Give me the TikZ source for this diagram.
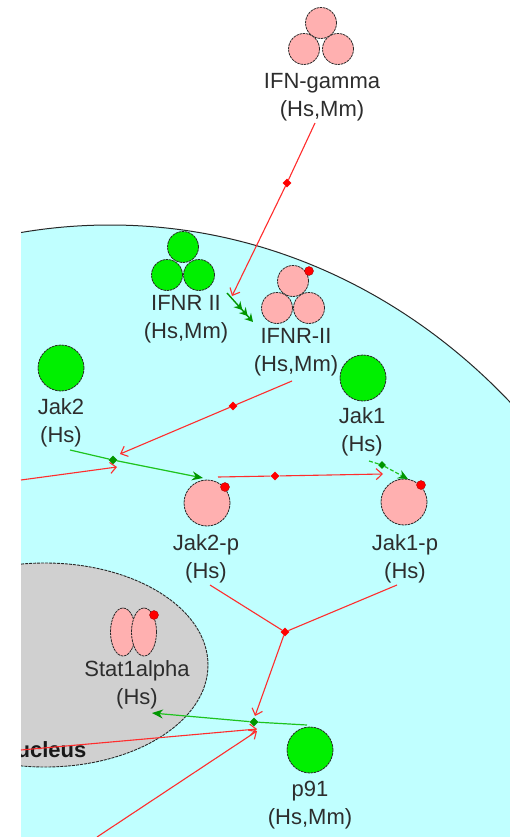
\documentclass[tikz,border=0pt]{standalone}
\usepackage{fontspec}
\setmainfont{Liberation Sans}
\usetikzlibrary{shapes.geometric,arrows.meta}
\definecolor{cellc}{RGB}{192,255,255}
\definecolor{nucc}{RGB}{208,208,208}
\definecolor{pinkc}{RGB}{255,176,176}
\definecolor{limec}{RGB}{0,240,0}
\definecolor{redl}{RGB}{255,45,45}
\definecolor{greenl}{RGB}{30,195,30}
\definecolor{darkg}{RGB}{0,150,0}
\definecolor{txt}{RGB}{45,45,45}
\definecolor{outl}{RGB}{40,40,40}
\begin{document}
\begin{tikzpicture}[x=1pt,y=-1pt,
  mol/.style={circle, draw=outl, dash pattern=on 2.5pt off 0.8pt, line width=0.8pt, inner sep=0pt},
  gmol/.style={mol, fill=limec, minimum size=46pt},
  pmol/.style={mol, fill=pinkc, minimum size=46pt},
  tri/.style={minimum size=31pt},
  pdot/.style={circle, fill=red, draw=red!60!black, line width=0.3pt, inner sep=0pt, minimum size=9pt},
  lbl/.style={align=center, font=\fontsize{22}{28}\selectfont, text=txt, inner sep=0pt},
  rdia/.style={diamond, fill=red, inner sep=0pt, minimum size=9pt},
  gdia/.style={diamond, fill=darkg, inner sep=0pt, minimum size=9pt},
  rline/.style={draw=redl, line width=1.1pt},
  gline/.style={draw=greenl, line width=1.2pt},
  rarr/.style={rline, -{Straight Barb[length=6pt,width=11pt]}},
  garr/.style={gline, -{Stealth[length=11pt,width=9pt,color=darkg]}}
]
\useasboundingbox (0,0) rectangle (510,837);
\fill[white] (0,0) rectangle (510,837);

% cell and nucleus
\begin{scope}
  \clip (21,0) rectangle (510,837);
  \filldraw[fill=cellc, draw=outl, line width=1pt] (110,867) ellipse [x radius=580pt, y radius=642pt];
  \filldraw[fill=nucc, draw=outl, line width=0.9pt, dash pattern=on 3pt off 1pt] (45,665) ellipse [x radius=163pt, y radius=102pt];
  \node[font=\bfseries\fontsize{22}{25}\selectfont, anchor=base west, inner sep=0pt, text=black!90] (nuclbl) at (0.5,757) {Nucleus};
\end{scope}

% IFN-gamma
\node[pmol, tri] (ifg1) at (321,23) {};
\node[pmol, tri] (ifg2) at (304,49) {};
\node[pmol, tri] (ifg3) at (338,49) {};
\node[lbl] (ifgl) at (322,97) {IFN-gamma\\(Hs,Mm)};

% IFNR II (green)
\node[gmol, tri] (ifr1) at (183,247) {};
\node[gmol, tri] (ifr2) at (167,275) {};
\node[gmol, tri] (ifr3) at (199,275) {};
\node[lbl] (ifrl) at (186,319) {IFNR II\\(Hs,Mm)};

% IFNR-II (pink, phosphorylated)
\node[pmol, tri] (ifp1) at (293,281) {};
\node[pmol, tri] (ifp2) at (277,308) {};
\node[pmol, tri] (ifp3) at (309,308) {};
\node[pdot] (ifpd) at (309,271) {};
\node[lbl] (ifpl) at (296,352) {IFNR-II\\(Hs,Mm)};

% Jak2 / Jak1
\node[gmol] (jak2) at (61,368) {};
\node[lbl] (jak2l) at (61,423) {Jak2\\(Hs)};
\node[gmol] (jak1) at (363,378) {};
\node[lbl] (jak1l) at (362,432) {Jak1\\(Hs)};

% Jak2-p / Jak1-p
\node[pmol] (jak2p) at (207,503) {};
\node[pdot] (jak2pd) at (225,487) {};
\node[lbl] (jak2pl) at (206,559) {Jak2-p\\(Hs)};
\node[pmol] (jak1p) at (404,502) {};
\node[pdot] (jak1pd) at (421,485) {};
\node[lbl] (jak1pl) at (405,559) {Jak1-p\\(Hs)};

% Stat1alpha
\node[mol, ellipse, fill=pinkc, minimum width=25pt, minimum height=48pt] (st1) at (123,632) {};
\node[mol, ellipse, fill=pinkc, minimum width=25pt, minimum height=48pt] (st2) at (144,632) {};
\node[pdot] (std) at (154,615) {};
\node[lbl] (stl) at (137,685) {Stat1alpha\\(Hs)};

% p91
\node[gmol] (p91) at (310,750) {};
\node[lbl] (p91l) at (310,805) {p91\\(Hs,Mm)};

% reaction points
\node[rdia] (r1) at (287,183) {};
\node[rdia] (r2) at (233,406) {};
\node[gdia] (r3) at (113,460) {};
\node[rdia] (r4) at (275,476) {};
\node[gdia, minimum size=8pt] (r5) at (382,465) {};
\node[rdia] (r6) at (285,632) {};
\node[gdia] (r7) at (254,722) {};

% free ends
\coordinate (a1) at (315,123);
\coordinate (t1) at (232,296);
\coordinate (ga) at (227,293);
\coordinate (gb) at (253,322);
\coordinate (a2) at (292,381);
\coordinate (t2) at (120,454);
\coordinate (a3) at (70,450);
\coordinate (t3) at (203,478);
\coordinate (a3r) at (21,480);
\coordinate (t3r) at (117,467);
\coordinate (a4) at (218,477);
\coordinate (t4) at (383,474);
\coordinate (a5) at (369,461);
\coordinate (t5) at (408,479);
\coordinate (a6) at (210,585);
\coordinate (b6) at (397,585);
\coordinate (t6) at (255,716);
\coordinate (a7) at (307,725);
\coordinate (t7) at (152,713);
\coordinate (a8) at (21,750);
\coordinate (t8) at (257,729);
\coordinate (a9) at (97,837);
\coordinate (t9) at (257,731);

% connectors
\draw[rline] (a1) -- (r1);
\draw[rarr] (r1) -- (t1);
\draw[draw=darkg, line width=1.4pt, -{Stealth[length=8pt,width=9pt]Stealth[length=8pt,width=9pt]Stealth[length=8pt,width=9pt]}] (ga) -- (gb);

\draw[rline] (a2) -- (r2);
\draw[rarr] (r2) -- (t2);

\draw[gline] (a3) -- (r3);
\draw[garr] (r3) -- (t3);
\draw[rarr] (a3r) -- (t3r);

\draw[rline] (a4) -- (r4);
\draw[rarr] (r4) -- (t4);

\draw[gline, dash pattern=on 4pt off 2pt] (a5) -- (r5);
\draw[gline, dash pattern=on 4pt off 2pt, -{Stealth[length=10pt,width=9pt,color=darkg]}] (r5) -- (t5);

\draw[rline] (a6) -- (r6);
\draw[rline] (b6) -- (r6);
\draw[rarr] (r6) -- (t6);

\draw[gline] (a7) -- (r7);
\draw[garr] (r7) -- (t7);
\draw[rarr] (a8) -- (t8);
\draw[rarr] (a9) -- (t9);
\end{tikzpicture}
\end{document}
